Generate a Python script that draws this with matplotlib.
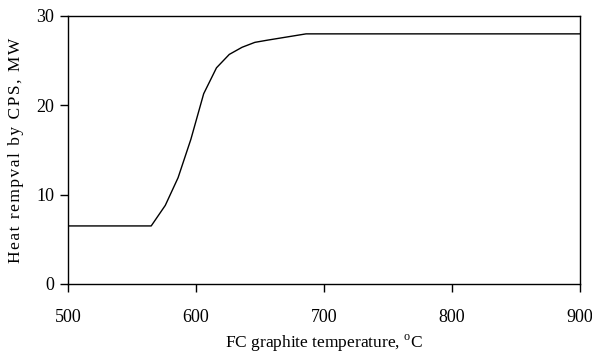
import matplotlib
matplotlib.use('Agg')
import matplotlib.pyplot as plt

# Heat removal by CPS vs FC graphite temperature
temperature = [500, 565, 576, 586, 596, 606, 616, 626, 636, 646, 656, 686, 900]
heat_removal = [6.5, 6.5, 8.8, 11.9, 16.2, 21.3, 24.2, 25.7, 26.5, 27.05, 27.3, 28.0, 28.0]

x_ticks = [500, 600, 700, 800, 900]
y_ticks = [0, 10, 20, 30]

plt.rcParams['font.family'] = ['Liberation Serif', 'DejaVu Sans']
plt.rcParams['mathtext.fontset'] = 'custom'
plt.rcParams['mathtext.rm'] = 'Liberation Serif'

fig = plt.figure(figsize=(5.92, 3.58), dpi=100)
ax = fig.add_axes([68 / 592, 1 - 284 / 358, (580 - 68) / 592, (284 - 16) / 358])

ax.plot(temperature, heat_removal, color='black', linewidth=1.0)

ax.set_xlim(500, 900)
ax.set_ylim(0, 30)
ax.set_xticks(x_ticks)
ax.set_yticks(y_ticks)
ax.tick_params(direction='out', length=6, width=1, labelsize=13)
ax.tick_params(axis='x', pad=12)
ax.tick_params(axis='y', pad=4)
for s in ax.spines.values():
    s.set_linewidth(1.0)

ax.set_xlabel(r'FC graphite temperature, $^{\rm o}$C', fontsize=12.5, labelpad=5)

# letter-spaced y label
ylabel = '\u200a'.join('Heat rempval by CPS, MW')
ax.set_ylabel(ylabel, fontsize=12.5, labelpad=9)

fig.savefig('out.png', dpi=100)
